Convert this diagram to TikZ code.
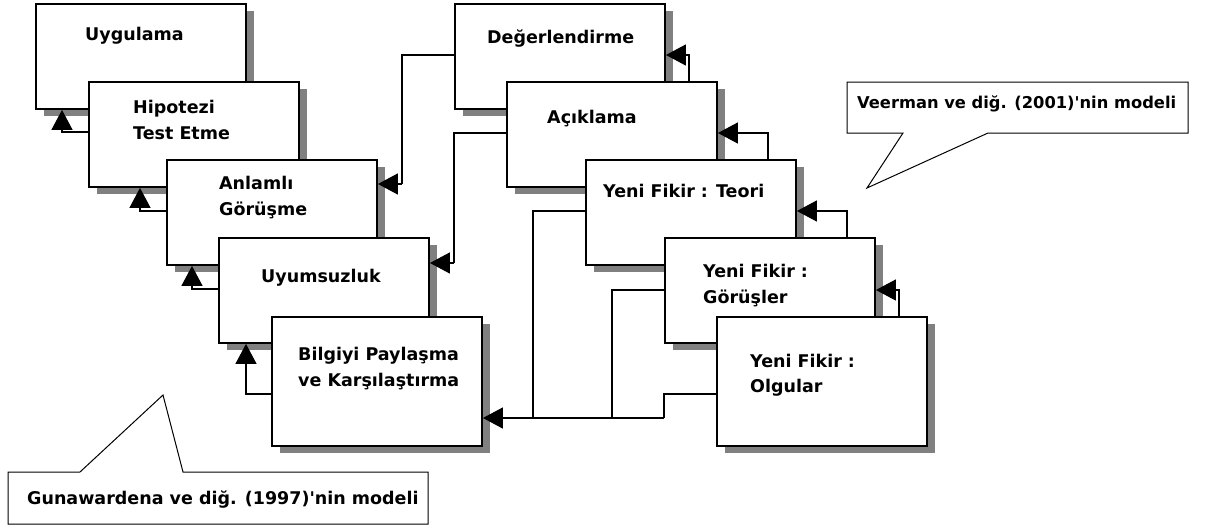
\documentclass[tikz,border=0pt]{standalone}
\usepackage{fontspec}
\setmainfont{DejaVu Sans}
\usetikzlibrary{arrows.meta,shadows}
\begin{document}
\begin{tikzpicture}[x=1pt,y=-1pt,
  box/.style={draw=black, line width=1.9pt, fill=white, anchor=north west,
    inner sep=0pt, minimum width=210pt, minimum height=105pt,
    drop shadow={shadow xshift=8pt, shadow yshift=-7pt, fill=black!50, opacity=1}},
  tallbox/.style={box, minimum height=129pt},
  lbl/.style={anchor=base west, inner sep=0pt,
    font=\fontsize{17.5}{21}\selectfont\bfseries},
  conn/.style={draw=black, line width=1.3pt},
  arr/.style={conn, -{Triangle[length=20pt,width=21pt]}},
  note/.style={draw=black, line width=1pt, fill=white}]
\useasboundingbox (0,0) rectangle (1208,530);

% Gunawardena et al. chain (left column)
\node[box] (uyg) at (35,3) {};
\node[lbl] (uygt) at (85,40) {Uygulama};
\node[box] (hip) at (88,81) {};
\node[lbl] (hipt1) at (133,113) {Hipotezi};
\node[lbl] (hipt2) at (133,139) {Test Etme};
\node[box] (anl) at (166,159) {};
\node[lbl] (anlt1) at (219,189) {Anlamlı};
\node[lbl] (anlt2) at (219,215) {Görüşme};
\node[box] (uyu) at (218,237) {};
\node[lbl] (uyut) at (261,282) {Uyumsuzluk};
\node[tallbox] (bil) at (271,316) {};
\node[lbl] (bilt1) at (298,360) {Bilgiyi Paylaşma};
\node[lbl] (bilt2) at (298,386) {ve Karşılaştırma};

% Veerman et al. chain (right column)
\node[box] (deg) at (454,3) {};
\node[lbl] (degt) at (487,43) {Değerlendirme};
\node[box] (acik) at (506,81) {};
\node[lbl] (acikt) at (547,123) {Açıklama};
\node[box] (teo) at (585,159) {};
\node[lbl] (teot) at (603,197) {Yeni Fikir : Teori};
\node[box] (gor) at (664,237) {};
\node[lbl] (gort1) at (703,277) {Yeni Fikir :};
\node[lbl] (gort2) at (703,303) {Görüşler};
\node[tallbox] (olg) at (716,316) {};
\node[lbl] (olgt1) at (750,367) {Yeni Fikir :};
\node[lbl] (olgt2) at (750,392) {Olgular};

% left column connectors
\draw[arr] (hip.west |- 0,132) -| (uyg.south -| 62,0);
\draw[arr] (anl.west |- 0,211) -| (hip.south -| 140,0);
\draw[arr] (uyu.west |- 0,289) -| (anl.south -| 192,0);
\draw[arr] (bil.west |- 0,394) -| (uyu.south -| 246,0);

% cross connectors
\draw[conn] (deg.west |- 0,55) -| (402,184) coordinate (c1);
\draw[arr] (c1) -- (anl.east |- c1);
\draw[conn] (acik.west |- 0,133) -| (454,263) coordinate (c2);
\draw[arr] (c2) -- (uyu.east |- c2);

% right column connectors
\draw[arr] (acik.north -| 689,0) |- (deg.east |- 0,55);
\draw[arr] (teo.north -| 768,0) |- (acik.east |- 0,133);
\draw[arr] (gor.north -| 847,0) |- (teo.east |- 0,211);
\draw[arr] (olg.north -| 899,0) |- (gor.east |- 0,290);

% new ideas feeding back into sharing
\draw[conn] (teo.west |- 0,211) -| (533,418);
\draw[conn] (gor.west |- 0,290) -| (612,418);
\draw[conn] (olg.west |- 0,394) -| (664,418) coordinate (c3);
\draw[arr] (c3) -- (bil.east |- c3);

% callouts
\coordinate (g1) at (8,472);
\coordinate (g2) at (428,524);
\draw[note] (g1) -- (80,472) -- (163,395) -- (183,472) -- (g2 |- g1)
  -- (g2) -- (g1 |- g2) -- cycle;
\node[lbl] (gunt) at (27,504) {Gunawardena ve diğ. (1997)\textquotesingle nin modeli};

\coordinate (v1) at (847,82);
\coordinate (v2) at (1188,133);
\draw[note] (v1) -- (v2 |- v1) -- (v2) -- (988,133) -- (867,188) -- (903,133)
  -- (v1 |- v2) -- cycle;
\node[lbl, font=\fontsize{16.3}{20}\selectfont\bfseries] (veet) at (857,108)
  {Veerman ve diğ. (2001)\textquotesingle nin modeli};
\end{tikzpicture}
\end{document}
